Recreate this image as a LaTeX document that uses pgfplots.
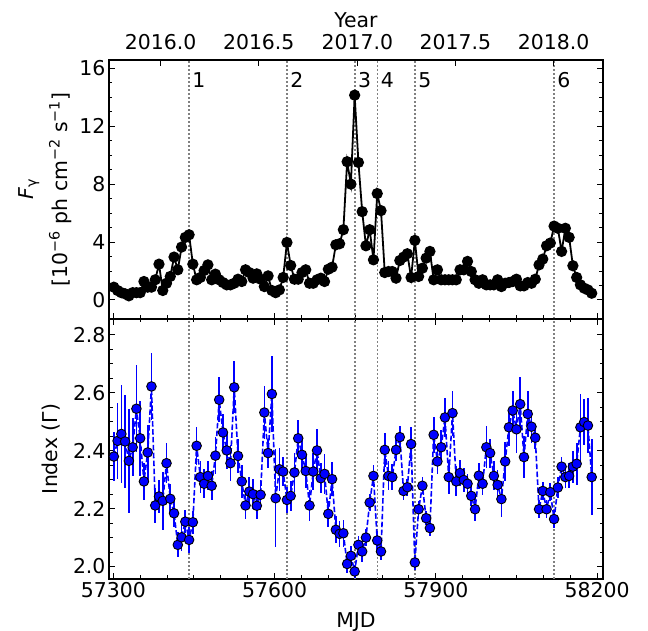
\documentclass[border=0pt]{standalone}
\usepackage{fontspec}
\setmainfont{DejaVu Sans}
\usepackage{pgfplots}
\usepackage{pgfplotstable}
\pgfplotsset{compat=1.18}

% weekly photon flux (1e-6 ph cm-2 s-1)
\pgfplotstableread{
t f
57301 0.88
57308 0.65
57315 0.50
57322 0.42
57329 0.28
57336 0.50
57343 0.50
57350 0.50
57357 1.27
57364 0.88
57371 0.88
57378 1.39
57385 2.47
57392 0.65
57399 1.15
57406 1.62
57413 2.96
57420 2.08
57427 3.65
57434 4.32
57441 4.50
57448 2.47
57455 1.39
57462 1.55
57469 2.03
57476 2.42
57483 1.39
57490 1.78
57497 1.39
57504 1.20
57511 1.04
57518 1.04
57525 1.15
57532 1.43
57539 1.27
57546 2.08
57553 1.89
57560 1.50
57567 1.80
57574 1.43
57581 0.92
57588 1.66
57595 0.65
57602 0.50
57609 0.69
57616 1.55
57623 3.97
57630 2.38
57637 1.43
57644 1.43
57651 1.89
57658 2.08
57665 1.15
57672 1.15
57679 1.39
57686 1.50
57693 1.27
57700 2.12
57707 2.26
57714 3.81
57721 3.88
57728 4.85
57735 9.55
57742 8.00
57749 14.15
57756 9.50
57763 6.10
57770 3.74
57777 4.85
57784 2.77
57791 7.35
57798 6.17
57805 1.89
57812 1.96
57819 1.96
57826 1.50
57833 2.72
57840 2.96
57847 3.19
57854 1.55
57861 4.11
57868 1.62
57875 2.19
57882 2.89
57889 3.35
57896 1.39
57903 2.08
57910 1.39
57917 1.39
57924 1.39
57931 1.39
57938 1.39
57945 2.08
57952 2.08
57959 2.66
57966 1.96
57973 1.39
57980 1.15
57987 1.39
57994 1.04
58001 1.04
58008 1.04
58015 1.39
58022 0.92
58029 1.15
58036 1.20
58043 1.27
58050 1.43
58057 0.97
58064 0.97
58071 1.20
58078 1.15
58085 1.43
58092 2.42
58099 2.82
58106 3.74
58113 3.93
58120 5.10
58127 4.95
58134 3.35
58141 4.95
58148 4.32
58155 2.36
58162 1.55
58169 1.04
58176 0.81
58183 0.69
58190 0.46
}\fluxtab

% photon index with 1-sigma errors
\pgfplotstableread{
t g e
57301 2.380 0.086
57308 2.434 0.130
57315 2.458 0.168
57322 2.432 0.160
57329 2.365 0.180
57336 2.412 0.100
57343 2.545 0.150
57350 2.443 0.130
57357 2.294 0.063
57364 2.394 0.095
57371 2.622 0.115
57378 2.211 0.060
57385 2.242 0.058
57392 2.227 0.100
57399 2.357 0.070
57406 2.234 0.050
57413 2.184 0.046
57420 2.075 0.043
57427 2.101 0.046
57434 2.155 0.040
57441 2.092 0.046
57448 2.153 0.040
57455 2.417 0.066
57462 2.309 0.055
57469 2.286 0.050
57476 2.313 0.050
57483 2.279 0.050
57490 2.383 0.063
57497 2.576 0.078
57504 2.463 0.063
57511 2.401 0.063
57518 2.357 0.063
57525 2.619 0.090
57532 2.382 0.058
57539 2.294 0.058
57546 2.211 0.046
57553 2.259 0.052
57560 2.250 0.052
57567 2.210 0.046
57574 2.248 0.052
57581 2.532 0.093
57588 2.392 0.050
57595 2.596 0.130
57602 2.236 0.170
57609 2.336 0.075
57616 2.328 0.050
57623 2.230 0.046
57630 2.244 0.052
57637 2.325 0.066
57644 2.443 0.063
57651 2.386 0.063
57658 2.330 0.060
57665 2.211 0.052
57672 2.328 0.063
57679 2.401 0.075
57686 2.305 0.052
57693 2.320 0.069
57700 2.182 0.046
57707 2.302 0.058
57714 2.127 0.046
57721 2.113 0.046
57728 2.115 0.046
57735 2.009 0.032
57742 2.037 0.035
57749 1.983 0.023
57756 2.075 0.029
57763 2.052 0.035
57770 2.100 0.030
57777 2.221 0.030
57784 2.313 0.037
57791 2.090 0.032
57798 2.052 0.030
57805 2.403 0.058
57812 2.313 0.050
57819 2.309 0.045
57826 2.403 0.040
57833 2.447 0.040
57840 2.261 0.030
57847 2.274 0.030
57854 2.423 0.058
57861 2.014 0.025
57868 2.198 0.027
57875 2.279 0.030
57882 2.167 0.025
57889 2.133 0.027
57896 2.455 0.063
57903 2.363 0.045
57910 2.412 0.058
57917 2.515 0.066
57924 2.309 0.060
57931 2.530 0.078
57938 2.294 0.052
57945 2.323 0.045
57952 2.299 0.040
57959 2.286 0.035
57966 2.244 0.035
57973 2.198 0.040
57980 2.314 0.045
57987 2.286 0.040
57994 2.412 0.072
58001 2.392 0.050
58008 2.313 0.050
58015 2.282 0.052
58022 2.233 0.063
58029 2.363 0.066
58036 2.481 0.063
58043 2.539 0.069
58050 2.474 0.083
58057 2.561 0.095
58064 2.378 0.072
58071 2.527 0.078
58078 2.483 0.058
58085 2.445 0.040
58092 2.198 0.032
58099 2.261 0.030
58106 2.198 0.032
58113 2.257 0.032
58120 2.164 0.032
58127 2.273 0.035
58134 2.345 0.032
58141 2.309 0.037
58148 2.313 0.043
58155 2.345 0.055
58162 2.355 0.072
58169 2.481 0.115
58176 2.499 0.080
58183 2.487 0.095
58190 2.309 0.130
}\idxtab

\tikzset{epochs/.style={gray, line width=1.6bp, dash pattern=on 1.6bp off 2.4bp}}

\begin{document}
\begin{tikzpicture}
\useasboundingbox (0,0) rectangle (648bp,631bp);
\pgfplotsset{
  panel/.style={
    scale only axis, width=494bp, anchor=south west,
    xmin=57292, xmax=58211,
    tick align=inside,
    axis line style={line width=1.2bp},
    every tick/.style={black, line width=0.9bp},
    major tick length=6bp, minor tick length=3.5bp,
    tick label style={font=\fontsize{20.5}{24}\selectfont},
    label style={font=\fontsize{20.5}{24}\selectfont},
    /pgf/number format/assume math mode=true,
    xtick={57300,57600,57900,58200},
    scaled x ticks=false,
    minor x tick num=5,
    minor y tick num=3,
    x tick label style={/pgf/number format/1000 sep={}},
  },
}

% flux panel
\begin{axis}[panel, at={(109bp,312bp)}, height=259bp,
  ymin=-1.32, ymax=16.58, ytick={0,4,8,12,16},
  xtick pos=left, xticklabels={},
  ylabel={\textit{F}\textsubscript{γ}\\{[}10\textsuperscript{−6} ph cm\textsuperscript{−2} s\textsuperscript{−1}{]}},
  ylabel style={at={(axis description cs:-0.13,0.5)}, anchor=center, align=center,
    font=\fontsize{20.5}{34}\selectfont},
]
\pgfplotsinvokeforeach{57441,57623.5,57749.4,57791.6,57861.6,58120}{
  \draw[epochs] ({axis cs:#1,0}|-{rel axis cs:0,0}) -- ({axis cs:#1,0}|-{rel axis cs:0,1});
}
\addplot[black, line width=1.8bp, mark=*, mark size=4.7bp] table[x=t, y=f]{\fluxtab};
\foreach \m/\n in {57441/1,57623.5/2,57749.4/3,57791.6/4,57861.6/5,58120/6}{
  \edef\tmp{\noexpand\node[anchor=base west, inner sep=0pt, xshift=3bp,
    font=\noexpand\fontsize{20.5}{24}\noexpand\selectfont] at (axis cs:\m,14.7) {\n};}
  \tmp
}
\end{axis}

% year axis on top
\begin{axis}[scale only axis, width=494bp, height=259bp, at={(109bp,312bp)}, anchor=south west,
  xmin=57292, xmax=58211, ymin=0, ymax=1,
  axis x line*=top, axis y line=none,
  scaled x ticks=false,
  axis line style={line width=1.2bp},
  tick align=inside, every tick/.style={black, line width=0.9bp}, major tick length=6bp,
  xtick={57388,57570.6,57754,57936.5,58119},
  xticklabels={2016.0,2016.5,2017.0,2017.5,2018.0},
  x tick label style={font=\fontsize{20.5}{24}\selectfont, anchor=base, inner sep=0pt, yshift=10bp},
  xlabel={Year},
  xlabel style={font=\fontsize{20.5}{24}\selectfont, at={(axis description cs:0.5,1)}, anchor=base, inner sep=0pt, yshift=32.5bp},
]
\end{axis}

% photon index panel
\begin{axis}[panel, at={(109bp,52bp)}, height=260bp,
  ymin=1.957, ymax=2.855, ytick={2.0,2.2,2.4,2.6,2.8},
  y tick label style={/pgf/number format/.cd, fixed, fixed zerofill, precision=1},
  xlabel={MJD},
  xlabel style={at={(axis description cs:0.5,0)}, anchor=base, yshift=-48bp},
  ylabel={Index (Γ)},
  ylabel style={at={(axis description cs:-0.117,0.5)}, anchor=center},
]
\pgfplotsinvokeforeach{57441,57623.5,57749.4,57791.6,57861.6,58120}{
  \draw[epochs] ({axis cs:#1,2}|-{rel axis cs:0,0}) -- ({axis cs:#1,2}|-{rel axis cs:0,1});
}
\addplot[blue, line width=1.6bp, dash pattern=on 5.5bp off 2.4bp, no markers,
  error bars/.cd, y dir=both, y explicit,
  error bar style={solid, line width=1.7bp, blue}, error mark=none]
  table[x=t, y=g, y error=e]{\idxtab};
\addplot[only marks, mark=*, mark size=4.8bp,
  mark options={fill=blue, draw=black, line width=0.9bp}]
  table[x=t, y=g]{\idxtab};
\end{axis}
\end{tikzpicture}
\end{document}
